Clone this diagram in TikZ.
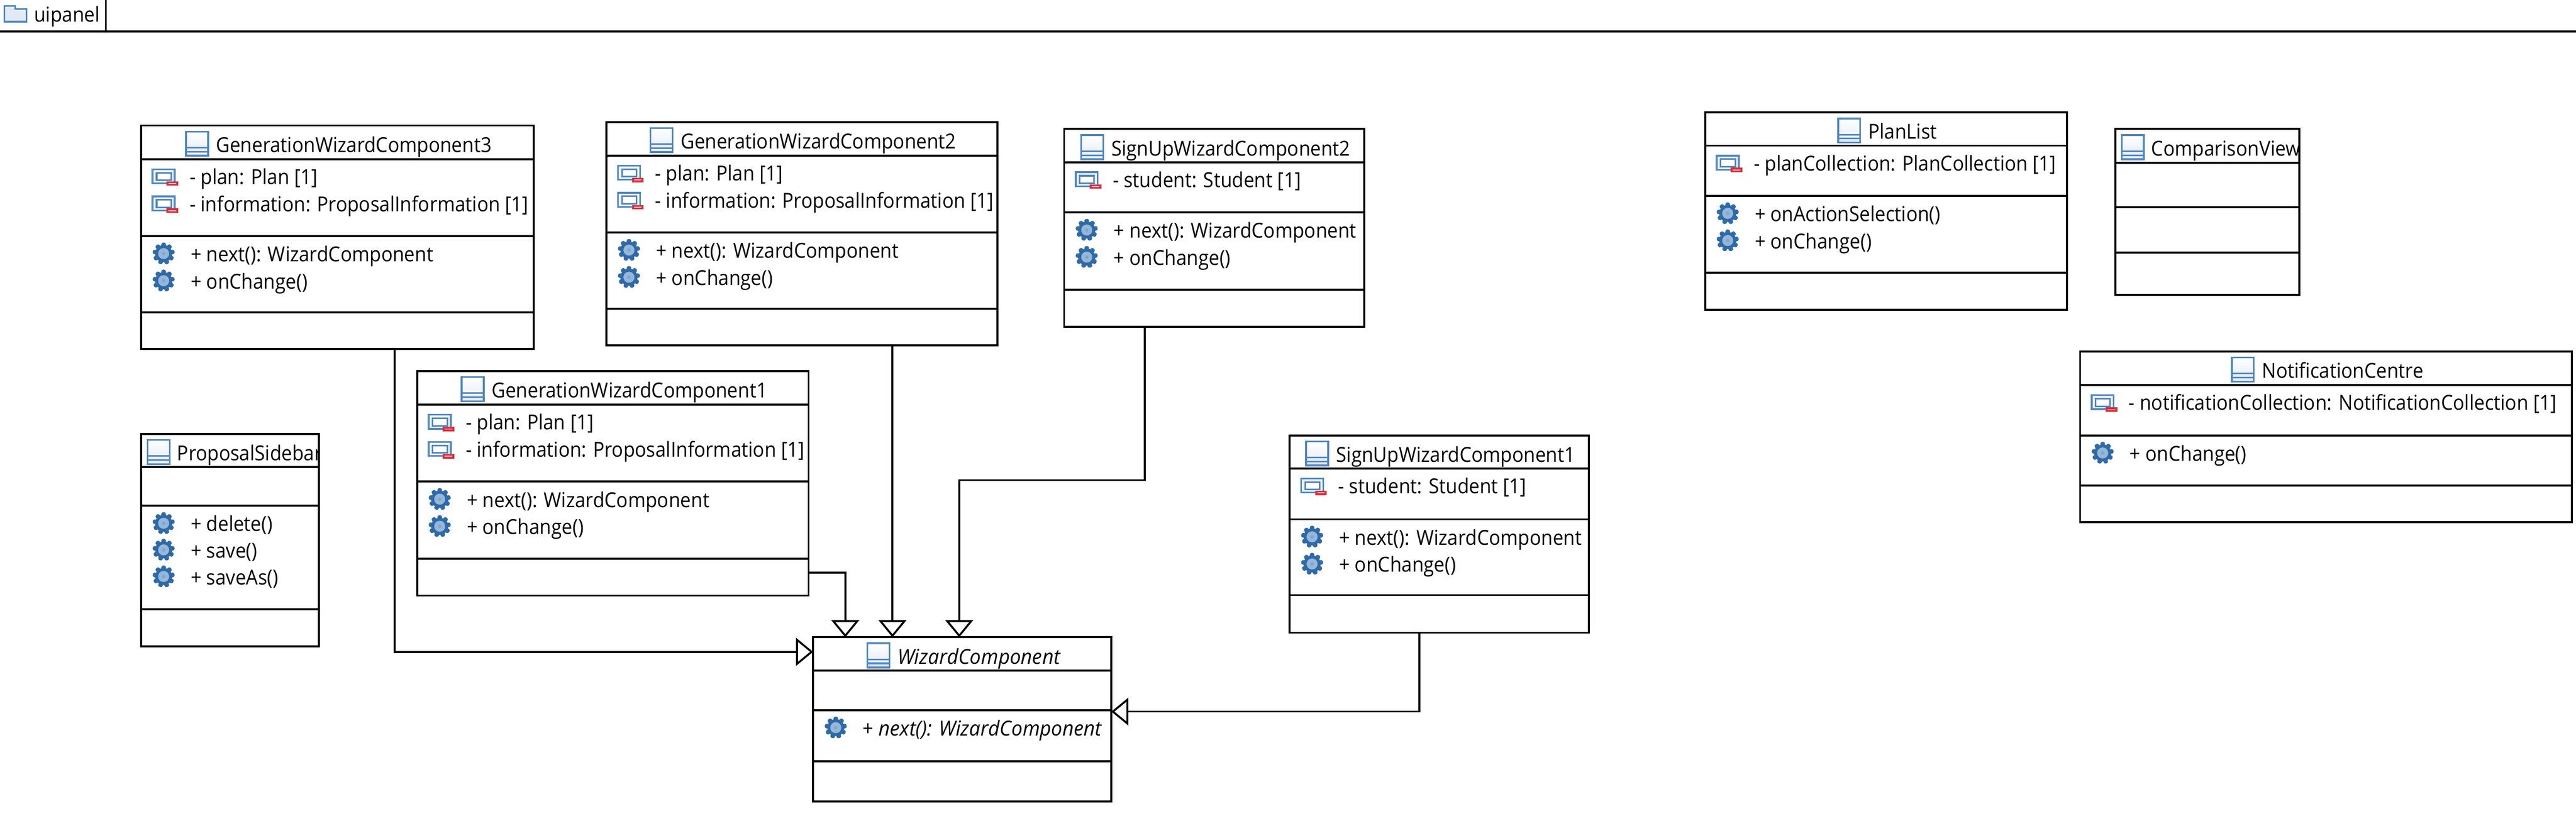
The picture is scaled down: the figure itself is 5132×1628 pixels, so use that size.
\documentclass[tikz,border=0pt]{standalone}
\usepackage{fontspec}
\setmainfont[FakeStretch=0.918,ItalicFeatures={FakeStretch=0.957}]{Open Sans}
\usetikzlibrary{calc,arrows.meta}
\definecolor{iconblue}{HTML}{4F87C0}
\definecolor{icondark}{HTML}{2F6AA8}
\definecolor{iconpale}{HTML}{E3EAF5}
\definecolor{iconred}{HTML}{D9303F}
\tikzset{
  classbox/.style={draw=black,line width=1.1pt,fill=white,rectangle,inner sep=0pt,outer sep=0pt,anchor=north west},
  sepline/.style={draw=black,line width=1.1pt},
  labeltext/.style={inner sep=0pt,outer sep=0pt,font=\fontsize{11.7pt}{14pt}\selectfont,text=black,anchor=base west},
  gen/.style={draw=black,line width=1.1pt,line join=miter,-{Triangle[open,length=0.34cm,width=0.55cm,fill=white]}},
  classicon/.pic={
    \shade[top color=iconpale,bottom color=white,draw=iconblue,line width=1pt,shading angle=180] (-22,-24) rectangle (22,24);
    \draw[iconblue,line width=0.9pt] (-22,8) -- (22,8) (-22,16) -- (22,16);
  },
  attricon/.pic={
    \draw[iconblue,line width=1pt,fill=iconpale!50] (-25,-16) rectangle (19,12);
    \draw[iconblue,line width=0.9pt,fill=white] (-17,-9) rectangle (12,6);
    \fill[iconred] (3,8) rectangle (26,17);
    \fill[white!70!iconred] (7,11.5) rectangle (22,13.5);
  },
  gearicon/.pic={
    \foreach \a in {0,40,...,320}{
      \fill[icondark,rotate=\a,rounded corners=1pt] (-4.5,-22) rectangle (4.5,0);
    }
    \fill[icondark] (0,0) circle (17);
    \fill[iconblue!60!white] (0,0) circle (11);
    \fill[icondark!60!white] (0,0) circle (3.5);
  },
}
% id, left, right, y0, y1, y2, y3, y4
\newcommand{\umlbox}[8]{%
  \node[classbox,minimum width={(#3-#2)*0.01cm},minimum height={(#8-#4)*0.01cm}] (#1) at (#2,#4) {};
  \draw[sepline] (#1.west |- 0,#5) -- (#1.east |- 0,#5);
  \draw[sepline] (#1.west |- 0,#6) -- (#1.east |- 0,#6);
  \draw[sepline] (#1.west |- 0,#7) -- (#1.east |- 0,#7);
}
\newcommand{\titlecentred}[3][]{%
  \node[labeltext,anchor=base,#1] (#2-title) at ($(#2.north)+(33,53)$) {#3};
  \pic at ($(#2-title.base west)+(-38,-17)$) {classicon};
}
\newcommand{\titleleft}[2]{%
  \begin{scope}
    \clip (#1.north west) rectangle (#1.south east);
    \node[labeltext] (#1-title) at ($(#1.north west)+(72,53)$) {#2};
  \end{scope}
  \pic at ($(#1.north west)+(35,36)$) {classicon};
}
% id, row suffix, row centre y, text
\newcommand{\attrrow}[4]{%
  \pic at ($(#1.west |- 0,#3)+(48,0)$) {attricon};
  \node[labeltext] (#1-#2) at ($(#1.west |- 0,#3)+(97,14)$) {#4};
}
\newcommand{\oprow}[4]{%
  \pic at ($(#1.west |- 0,#3)+(45,0)$) {gearicon};
  \node[labeltext] (#1-#2) at ($(#1.west |- 0,#3)+(99,16)$) {#4};
}
\begin{document}
\begin{tikzpicture}[x=0.01cm,y=-0.01cm]
\useasboundingbox (0,0) rectangle (5132,1628);
\fill[white] (0,0) rectangle (5132,1628);

% frame tab
\draw[sepline] (0,63) -- (5132,63);
\draw[sepline] (211,0) -- (211,63);
\draw[iconblue,line width=1pt,fill=iconpale] (9,43) -- (9,12) -- (30,12) -- (30,18) -- (53,18) -- (53,43) -- cycle;
\node[labeltext] (frame) at (68,44) {uipanel};

% GenerationWizardComponent3
\umlbox{gwcc}{281}{1063}{250}{317}{470}{622}{695}
\titlecentred{gwcc}{GenerationWizardComponent3}
\attrrow{gwcc}{a}{353}{- plan: Plan [1]}
\attrrow{gwcc}{b}{407}{- information: ProposalInformation [1]}
\oprow{gwcc}{c}{505}{+ next(): WizardComponent}
\oprow{gwcc}{d}{559}{+ onChange()}

% GenerationWizardComponent2
\umlbox{gwcb}{1208}{1987}{243}{310}{463}{615}{688}
\titlecentred{gwcb}{GenerationWizardComponent2}
\attrrow{gwcb}{a}{346}{- plan: Plan [1]}
\attrrow{gwcb}{b}{400}{- information: ProposalInformation [1]}
\oprow{gwcb}{c}{498}{+ next(): WizardComponent}
\oprow{gwcb}{d}{552}{+ onChange()}

% GenerationWizardComponent1
\umlbox{gwca}{831}{1611}{739}{806}{959}{1113}{1186}
\titlecentred{gwca}{GenerationWizardComponent1}
\attrrow{gwca}{a}{842}{- plan: Plan [1]}
\attrrow{gwca}{b}{896}{- information: ProposalInformation [1]}
\oprow{gwca}{c}{994}{+ next(): WizardComponent}
\oprow{gwca}{d}{1048}{+ onChange()}

% SignUpWizardComponent2
\umlbox{subb}{2120}{2718}{257}{323}{423}{577}{651}
\titlecentred{subb}{SignUpWizardComponent2}
\attrrow{subb}{a}{359}{- student: Student [1]}
\oprow{subb}{c}{458}{+ next(): WizardComponent}
\oprow{subb}{d}{512}{+ onChange()}

% SignUpWizardComponent1
\umlbox{suba}{2569}{3165}{867}{933}{1034}{1185}{1260}
\titlecentred{suba}{SignUpWizardComponent1}
\attrrow{suba}{a}{969}{- student: Student [1]}
\oprow{suba}{c}{1069}{+ next(): WizardComponent}
\oprow{suba}{d}{1123}{+ onChange()}

% ProposalSidebar
\umlbox{prop}{281}{635}{864}{930}{1007}{1213}{1287}
\titleleft{prop}{ProposalSidebar}
\oprow{prop}{a}{1042}{+ delete()}
\oprow{prop}{b}{1095}{+ save()}
\oprow{prop}{c}{1148}{+ saveAs()}

% WizardComponent
\umlbox{wiz}{1620}{2214}{1269}{1335}{1414}{1516}{1596}
\titlecentred{wiz}{\itshape WizardComponent}
\oprow{wiz}{a}{1449}{+ \itshape next(): WizardComponent}

% PlanList
\umlbox{plan}{3397}{4118}{224}{290}{390}{543}{617}
\titlecentred{plan}{PlanList}
\attrrow{plan}{a}{326}{- planCollection: PlanCollection [1]}
\oprow{plan}{c}{425}{+ onActionSelection()}
\oprow{plan}{d}{479}{+ onChange()}

% ComparisonView
\umlbox{comp}{4214}{4581}{257}{324}{413}{503}{587}
\titleleft{comp}{ComparisonView}

% NotificationCentre
\umlbox{noti}{4144}{5124}{700}{767}{867}{967}{1040}
\titlecentred{noti}{NotificationCentre}
\attrrow{noti}{a}{803}{- notificationCollection: NotificationCollection [1]}
\oprow{noti}{c}{902}{+ onChange()}

% generalisations
\draw[gen] (786,0 |- gwcc.south) |- (wiz.west |- 0,1298);
\draw[gen] (1778,0 |- gwcb.south) -- (1778,0 |- wiz.north);
\draw[gen] (gwca.east |- 0,1140) -| (1684,0 |- wiz.north);
\draw[gen] (2281,0 |- subb.south) -- (2281,956) -| (1911,0 |- wiz.north);
\draw[gen] (2828,0 |- suba.south) |- (wiz.east |- 0,1417);
\end{tikzpicture}
\end{document}
